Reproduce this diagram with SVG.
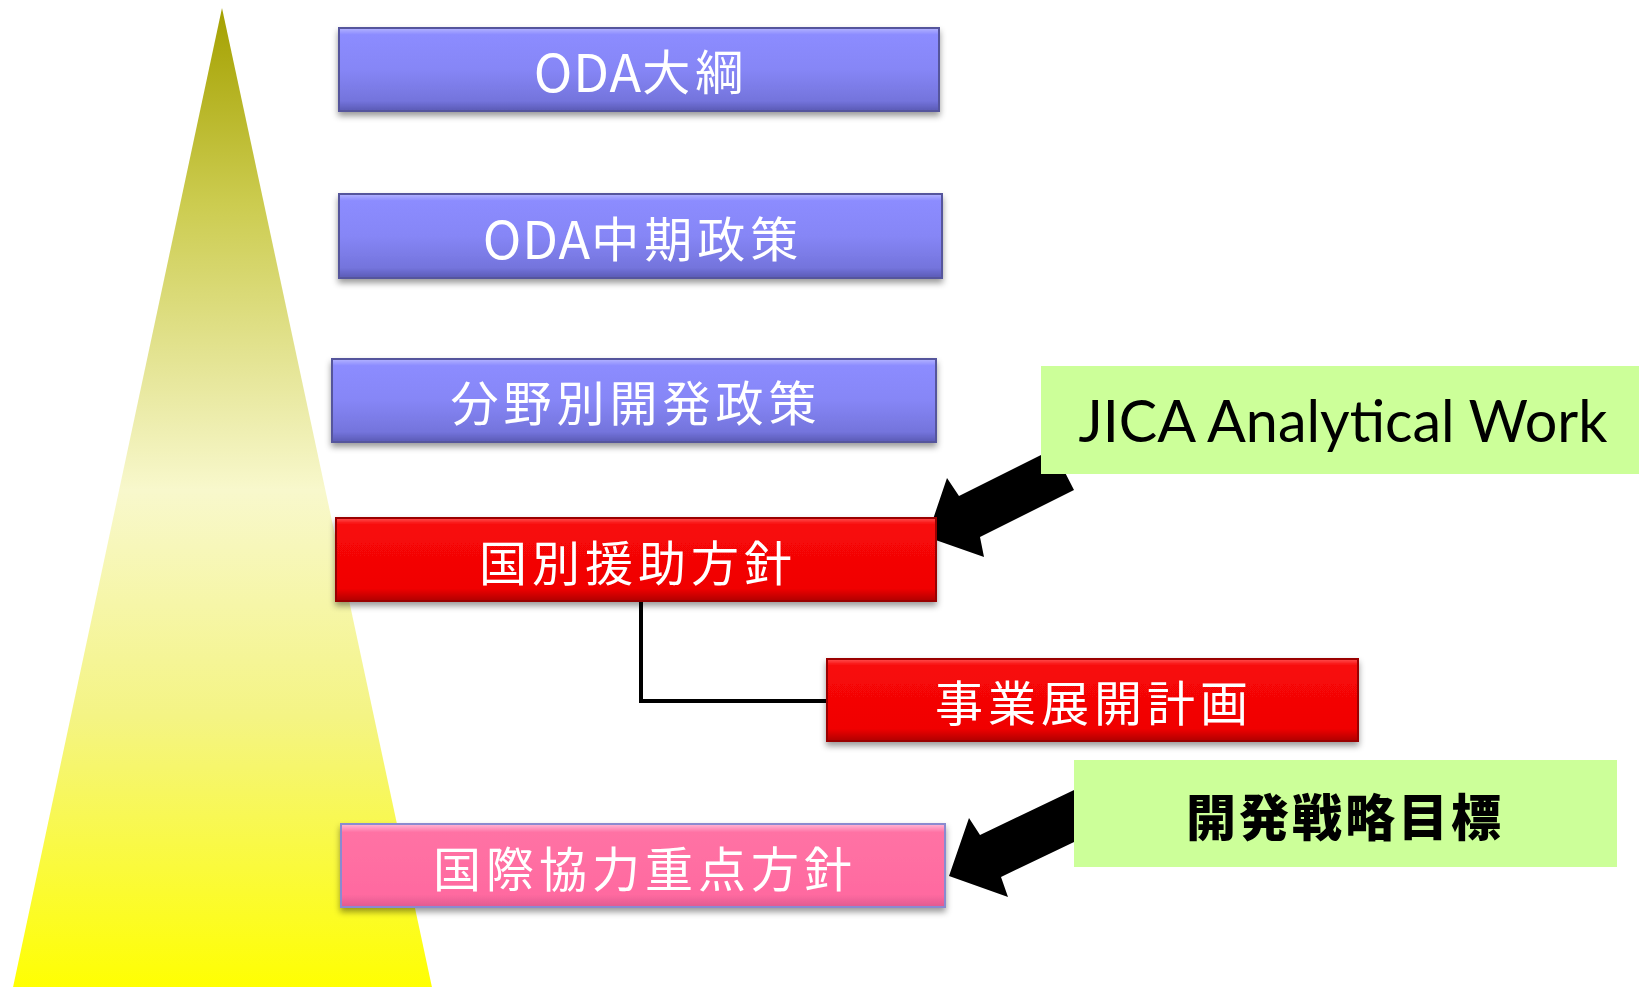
<svg xmlns="http://www.w3.org/2000/svg" width="1639" height="987" viewBox="0 0 1639 987">
<defs>
<linearGradient id="tri" x1="0" y1="0" x2="0" y2="1">
<stop offset="0" stop-color="#a4a000"/>
<stop offset="0.2" stop-color="#cccc50"/>
<stop offset="0.49" stop-color="#f8f8cc"/>
<stop offset="0.72" stop-color="#f4f484"/>
<stop offset="1" stop-color="#ffff00"/>
</linearGradient>
<linearGradient id="purple" x1="0" y1="0" x2="0" y2="1">
<stop offset="0" stop-color="#b4b4ff"/>
<stop offset="0.08" stop-color="#8c8cff"/>
<stop offset="0.5" stop-color="#8686f6"/>
<stop offset="0.88" stop-color="#7474dc"/>
<stop offset="1" stop-color="#5a5ab4"/>
</linearGradient>
<linearGradient id="red" x1="0" y1="0" x2="0" y2="1">
<stop offset="0" stop-color="#ff5050"/>
<stop offset="0.08" stop-color="#f80808"/>
<stop offset="0.85" stop-color="#f00404"/>
<stop offset="1" stop-color="#b00000"/>
</linearGradient>
<linearGradient id="pink" x1="0" y1="0" x2="0" y2="1">
<stop offset="0" stop-color="#ffb8d8"/>
<stop offset="0.1" stop-color="#ff72a4"/>
<stop offset="0.85" stop-color="#ff6aa0"/>
<stop offset="1" stop-color="#e05a90"/>
</linearGradient>
<filter id="sh" x="-5%" y="-20%" width="110%" height="150%">
<feDropShadow dx="0" dy="4" stdDeviation="3" flood-color="#000" flood-opacity="0.4"/>
</filter>
<style>
.lbl{font-family:"Noto Sans CJK JP","Noto Sans",sans-serif;font-size:48px;fill:#fff;text-anchor:middle;dominant-baseline:central;letter-spacing:5px}
.lat{font-size:52px;letter-spacing:1px}
.pb{fill:url(#purple);stroke:#55559c;stroke-width:2}
.rb{fill:url(#red);stroke:#9a0000;stroke-width:2}
.kb{fill:url(#pink);stroke:#8a8ad0;stroke-width:2}
.green{fill:#ccff99}
.arrow{fill:#000}
</style>
</defs>

<g id="pyramid">
<polygon points="222,8 12,992 433,992" fill="url(#tri)"/>
</g>

<g id="connectors">
<polyline points="641,601 641,701 827,701" fill="none" stroke="#000" stroke-width="4"/>
<polygon class="arrow" points="1053,449 959,496 947,478 927,537 984,557 980,537 1074,490"/>
<polygon class="arrow" points="1095,780 980,835 969,818 949,876 1008,897 1001,877 1095,832"/>
</g>

<g id="n-oda-taiko" filter="url(#sh)">
<rect class="pb" x="339" y="28" width="600" height="83"/>
<text class="lbl" x="641" y="69"><tspan class="lat">ODA</tspan>大綱</text>
</g>

<g id="n-oda-chuki" filter="url(#sh)">
<rect class="pb" x="339" y="194" width="603" height="84"/>
<text class="lbl" x="643" y="236"><tspan class="lat">ODA</tspan>中期政策</text>
</g>

<g id="n-bunya" filter="url(#sh)">
<rect class="pb" x="332" y="359" width="604" height="83"/>
<text class="lbl" x="636" y="400">分野別開発政策</text>
</g>

<g id="n-kunibetsu" filter="url(#sh)">
<rect class="rb" x="336" y="518" width="600" height="83"/>
<text class="lbl" x="638" y="560">国別援助方針</text>
</g>

<g id="n-jigyo" filter="url(#sh)">
<rect class="rb" x="827" y="659" width="531" height="82"/>
<text class="lbl" x="1094" y="700">事業展開計画</text>
</g>

<g id="n-kokusai" filter="url(#sh)">
<rect class="kb" x="341" y="824" width="604" height="83"/>
<text class="lbl" x="645" y="866">国際協力重点方針</text>
</g>

<g id="n-jica">
<rect class="green" x="1041" y="366" width="598" height="108"/>
<text x="1343" y="442" font-family="Lato,'Liberation Sans',sans-serif" font-size="58" fill="#000" text-anchor="middle" textLength="529" lengthAdjust="spacingAndGlyphs">JICA Analytical Work</text>
</g>

<g id="n-kaihatsu">
<rect class="green" x="1074" y="760" width="543" height="107"/>
<text x="1345" y="814" font-family="'Noto Sans CJK JP',sans-serif" font-size="50" font-weight="900" fill="#000" text-anchor="middle" dominant-baseline="central" letter-spacing="3">開発戦略目標</text>
</g>
</svg>
